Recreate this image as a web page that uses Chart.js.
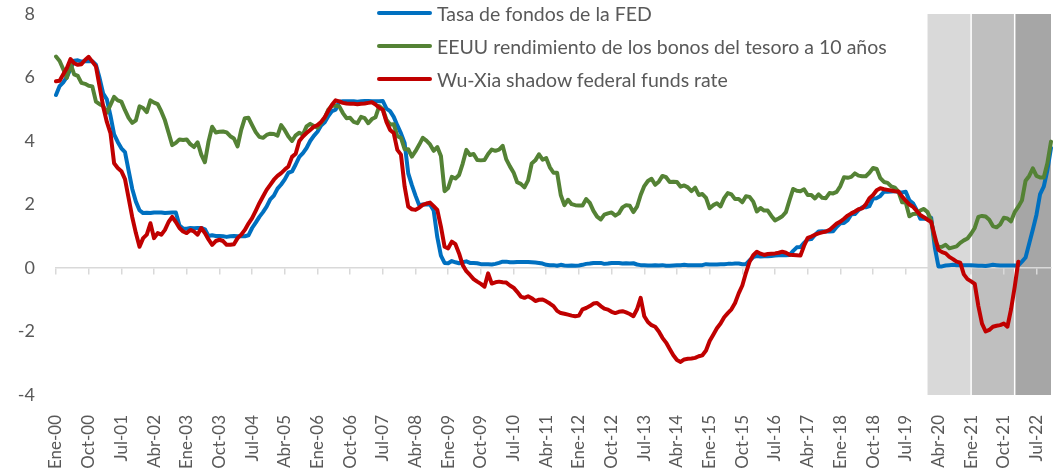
<!DOCTYPE html>
<html>
<head>
<meta charset="utf-8">
<script src="https://cdn.jsdelivr.net/npm/chart.js@4"></script>
<style>
  body { margin: 0; background: #fff; }
  #wrap { position: relative; width: 1056px; height: 472px; }
  #legend { position: absolute; left: 377px; top: 0; font-family: Lato, sans-serif; font-size: 19.5px; color: #595959; }
  #legend .row { position: absolute; left: 0; height: 24px; display: flex; align-items: center; white-space: nowrap; }
  #legend .swatch { width: 55px; height: 4px; border-radius: 2px; margin-right: 5px; }
</style>
</head>
<body>
<div id="wrap">
  <canvas id="chart" width="1056" height="472"></canvas>
  <div id="legend"></div>
</div>
<script>
const monthNames = ["Ene", "Feb", "Mar", "Abr", "May", "Jun", "Jul", "Ago", "Sep", "Oct", "Nov", "Dic"];
const firstYear = 2000;
const pointCount = 275; // Ene-00 .. Nov-22

const seriesNames = [
  "Tasa de fondos de la FED",
  "EEUU rendimiento de los bonos del tesoro a 10 años",
  "Wu-Xia shadow federal funds rate"
];
const seriesColors = ["#0070C0", "#548235", "#C00000"];

// one row per year, Ene..Dic
const fedFunds = [
  5.45, 5.73, 5.85, 6.02, 6.27, 6.53, 6.54, 6.50, 6.52, 6.51, 6.51, 6.40,
  5.98, 5.49, 5.31, 4.80, 4.21, 3.97, 3.77, 3.65, 3.07, 2.49, 2.09, 1.82,
  1.73, 1.74, 1.73, 1.75, 1.75, 1.75, 1.73, 1.74, 1.75, 1.75, 1.34, 1.24,
  1.24, 1.26, 1.25, 1.26, 1.26, 1.22, 1.01, 1.03, 1.01, 1.01, 1.00, 0.98,
  1.00, 1.01, 1.00, 1.00, 1.00, 1.03, 1.26, 1.43, 1.61, 1.76, 1.93, 2.16,
  2.28, 2.50, 2.63, 2.79, 3.00, 3.04, 3.26, 3.50, 3.62, 3.78, 4.00, 4.16,
  4.29, 4.49, 4.59, 4.79, 4.94, 4.99, 5.24, 5.25, 5.25, 5.25, 5.25, 5.24,
  5.25, 5.26, 5.26, 5.25, 5.25, 5.25, 5.26, 5.02, 4.94, 4.76, 4.49, 4.24,
  3.94, 2.98, 2.61, 2.28, 1.98, 2.00, 2.01, 2.00, 1.81, 0.97, 0.39, 0.16,
  0.15, 0.22, 0.18, 0.15, 0.18, 0.21, 0.16, 0.16, 0.15, 0.12, 0.12, 0.12,
  0.11, 0.13, 0.16, 0.20, 0.20, 0.18, 0.18, 0.19, 0.19, 0.19, 0.19, 0.18,
  0.17, 0.16, 0.14, 0.10, 0.09, 0.09, 0.07, 0.10, 0.08, 0.07, 0.08, 0.07,
  0.08, 0.10, 0.13, 0.14, 0.16, 0.16, 0.16, 0.13, 0.14, 0.16, 0.16, 0.16,
  0.14, 0.15, 0.14, 0.15, 0.11, 0.09, 0.09, 0.08, 0.08, 0.09, 0.08, 0.09,
  0.07, 0.07, 0.08, 0.09, 0.09, 0.10, 0.09, 0.09, 0.09, 0.09, 0.09, 0.12,
  0.11, 0.11, 0.11, 0.12, 0.12, 0.13, 0.13, 0.14, 0.14, 0.12, 0.12, 0.24,
  0.34, 0.38, 0.36, 0.37, 0.37, 0.38, 0.39, 0.40, 0.40, 0.40, 0.41, 0.54,
  0.65, 0.66, 0.79, 0.90, 0.91, 1.04, 1.15, 1.16, 1.15, 1.15, 1.16, 1.30,
  1.41, 1.42, 1.51, 1.69, 1.70, 1.82, 1.91, 1.91, 1.95, 2.19, 2.20, 2.27,
  2.40, 2.40, 2.41, 2.42, 2.39, 2.38, 2.40, 2.13, 2.04, 1.83, 1.55, 1.55,
  1.55, 1.58, 0.65, 0.05, 0.05, 0.08, 0.09, 0.10, 0.09, 0.09, 0.09, 0.09,
  0.09, 0.08, 0.07, 0.07, 0.06, 0.08, 0.10, 0.09, 0.08, 0.08, 0.08, 0.08,
  0.08, 0.08, 0.20, 0.33, 0.77, 1.21, 1.68, 2.33, 2.56, 3.08, 3.78
];

const tenYear = [
  6.66, 6.52, 6.26, 5.99, 6.44, 6.10, 6.05, 5.83, 5.80, 5.74, 5.72, 5.24,
  5.16, 5.10, 4.89, 5.14, 5.39, 5.28, 5.24, 4.97, 4.73, 4.57, 4.65, 5.09,
  5.04, 4.91, 5.28, 5.21, 5.16, 4.93, 4.65, 4.26, 3.87, 3.94, 4.05, 4.03,
  4.05, 3.90, 3.81, 3.96, 3.57, 3.33, 3.98, 4.45, 4.27, 4.29, 4.30, 4.27,
  4.15, 4.08, 3.83, 4.35, 4.72, 4.73, 4.50, 4.28, 4.13, 4.10, 4.19, 4.23,
  4.22, 4.17, 4.50, 4.34, 4.14, 4.00, 4.18, 4.26, 4.20, 4.46, 4.54, 4.47,
  4.42, 4.57, 4.72, 4.99, 5.11, 5.11, 5.09, 4.88, 4.72, 4.73, 4.60, 4.56,
  4.76, 4.72, 4.56, 4.69, 4.75, 5.10, 5.00, 4.67, 4.52, 4.53, 4.15, 4.10,
  3.74, 3.74, 3.51, 3.68, 3.88, 4.10, 4.01, 3.89, 3.69, 3.81, 3.53, 2.42,
  2.52, 2.87, 2.82, 2.93, 3.29, 3.72, 3.56, 3.59, 3.40, 3.39, 3.40, 3.59,
  3.73, 3.69, 3.73, 3.85, 3.42, 3.20, 3.01, 2.70, 2.65, 2.54, 2.76, 3.29,
  3.39, 3.58, 3.41, 3.46, 3.17, 3.00, 3.00, 2.30, 1.98, 2.15, 2.01, 1.98,
  1.97, 1.97, 2.17, 2.05, 1.80, 1.62, 1.53, 1.68, 1.72, 1.75, 1.65, 1.72,
  1.91, 1.98, 1.96, 1.76, 1.93, 2.30, 2.58, 2.74, 2.81, 2.62, 2.72, 2.90,
  2.86, 2.71, 2.72, 2.71, 2.56, 2.60, 2.54, 2.42, 2.53, 2.30, 2.33, 2.21,
  1.88, 1.98, 2.04, 1.94, 2.20, 2.36, 2.32, 2.17, 2.17, 2.07, 2.26, 2.24,
  2.09, 1.78, 1.89, 1.81, 1.81, 1.64, 1.50, 1.56, 1.63, 1.76, 2.14, 2.49,
  2.43, 2.42, 2.48, 2.30, 2.30, 2.19, 2.32, 2.21, 2.20, 2.36, 2.35, 2.40,
  2.58, 2.86, 2.84, 2.87, 2.98, 2.91, 2.89, 2.89, 3.00, 3.15, 3.12, 2.83,
  2.71, 2.68, 2.57, 2.53, 2.40, 2.07, 2.06, 1.63, 1.70, 1.71, 1.81, 1.86,
  1.76, 1.50, 0.87, 0.66, 0.67, 0.73, 0.62, 0.65, 0.68, 0.79, 0.87, 0.93,
  1.08, 1.26, 1.61, 1.64, 1.62, 1.52, 1.32, 1.28, 1.37, 1.58, 1.56, 1.47,
  1.76, 1.93, 2.13, 2.75, 2.90, 3.14, 2.90, 2.85, 2.85, 3.30, 3.98
];

const shadowRate = [
  5.88, 5.90, 6.10, 6.30, 6.58, 6.45, 6.40, 6.42, 6.55, 6.65, 6.50, 6.35,
  5.72, 5.08, 4.60, 4.25, 3.30, 3.15, 3.05, 2.80, 2.20, 1.60, 1.10, 0.67,
  0.94, 1.05, 1.41, 0.94, 1.10, 1.05, 1.20, 1.45, 1.61, 1.45, 1.26, 1.15,
  1.10, 1.20, 1.15, 1.05, 1.26, 1.10, 0.90, 0.73, 0.85, 0.89, 0.85, 0.73,
  0.73, 0.75, 0.94, 1.05, 1.20, 1.40, 1.57, 1.80, 2.04, 2.25, 2.46, 2.62,
  2.78, 2.90, 2.99, 3.10, 3.20, 3.50, 3.60, 4.00, 4.14, 4.25, 4.35, 4.45,
  4.50, 4.60, 4.75, 4.95, 5.14, 5.28, 5.25, 5.20, 5.18, 5.17, 5.17, 5.16,
  5.17, 5.18, 5.20, 5.22, 5.15, 5.05, 4.98, 4.60, 4.35, 4.25, 3.72, 3.57,
  2.57, 1.93, 1.85, 1.83, 1.90, 1.99, 2.03, 2.06, 1.95, 1.83, 1.30, 0.67,
  0.62, 0.83, 0.75, 0.46, 0.09, -0.10, -0.22, -0.35, -0.43, -0.50, -0.59, -0.17,
  -0.49, -0.45, -0.43, -0.45, -0.46, -0.55, -0.62, -0.75, -0.90, -0.94, -0.89, -0.95,
  -1.04, -1.00, -0.99, -1.05, -1.12, -1.20, -1.35, -1.42, -1.44, -1.47, -1.50, -1.52,
  -1.50, -1.30, -1.26, -1.20, -1.12, -1.10, -1.20, -1.28, -1.31, -1.38, -1.42, -1.38,
  -1.36, -1.40, -1.45, -1.52, -1.30, -0.94, -1.52, -1.70, -1.80, -1.85, -2.00, -2.20,
  -2.35, -2.55, -2.75, -2.90, -2.96, -2.88, -2.86, -2.85, -2.83, -2.78, -2.75, -2.60,
  -2.30, -2.10, -1.90, -1.75, -1.55, -1.42, -1.30, -1.10, -0.80, -0.55, -0.15, 0.20,
  0.40, 0.51, 0.45, 0.41, 0.44, 0.45, 0.46, 0.48, 0.51, 0.48, 0.42, 0.41,
  0.40, 0.39, 0.70, 0.95, 0.99, 1.05, 1.09, 1.12, 1.15, 1.20, 1.30, 1.40,
  1.46, 1.55, 1.65, 1.72, 1.78, 1.85, 1.88, 2.00, 2.20, 2.30, 2.45, 2.51,
  2.48, 2.46, 2.44, 2.42, 2.41, 2.25, 2.12, 2.00, 1.93, 1.80, 1.67, 1.60,
  1.52, 1.45, 1.00, 0.57, 0.50, 0.46, 0.35, 0.28, 0.20, 0.17, -0.20, -0.35,
  -0.42, -0.50, -1.20, -1.75, -2.00, -1.95, -1.85, -1.82, -1.80, -1.75, -1.85, -1.30,
  -0.60, 0.20, null, null, null, null, null, null, null, null, null
];

// shaded periods (2020, 2021, 2022)
const shadeFrom = ["Ene-20", "Ene-21", "Ene-22"];
const shadeTo = ["Ene-21", "Ene-22", "Nov-22"];
const shadeColors = ["#D9D9D9", "#BFBFBF", "#A6A6A6"];

const yTicks = [-4, -2, 0, 2, 4, 6, 8];
const labelEvery = 9;

const labels = [];
for (let i = 0; i < pointCount; i++) {
  const yr = firstYear + Math.floor(i / 12);
  labels.push(monthNames[i % 12] + "-" + String(yr % 100).padStart(2, "0"));
}

const shadeBands = {
  id: "shadeBands",
  beforeDraw(chart) {
    const { ctx, chartArea, scales } = chart;
    const x = scales.x;
    ctx.save();
    shadeFrom.forEach((from, i) => {
      const x0 = x.getPixelForValue(labels.indexOf(from));
      const x1 = x.getPixelForValue(labels.indexOf(shadeTo[i]));
      ctx.fillStyle = shadeColors[i];
      ctx.fillRect(x0, chartArea.top, x1 - x0, chartArea.bottom - chartArea.top);
      if (i > 0) {
        ctx.strokeStyle = "#fff";
        ctx.lineWidth = 1.5;
        ctx.beginPath();
        ctx.moveTo(x0, chartArea.top);
        ctx.lineTo(x0, chartArea.bottom);
        ctx.stroke();
      }
    });
    ctx.restore();
  }
};

const noPad = (s) => { s.paddingTop = 0; s.paddingBottom = 0; s.paddingLeft = 0; s.paddingRight = 0; };

new Chart(document.getElementById("chart"), {
  type: "line",
  data: {
    labels: labels,
    datasets: [
      { label: seriesNames[0], data: fedFunds, borderColor: seriesColors[0], order: 2 },
      { label: seriesNames[1], data: tenYear, borderColor: seriesColors[1], order: 1 },
      { label: seriesNames[2], data: shadowRate, borderColor: seriesColors[2], order: 0 }
    ]
  },
  options: {
    responsive: false,
    animation: false,
    devicePixelRatio: 1,
    elements: {
      point: { radius: 0 },
      line: { borderWidth: 4, tension: 0, borderJoinStyle: "round", borderCapStyle: "round", fill: false }
    },
    layout: { padding: { top: 14, right: 5, bottom: 0, left: 0 } },
    plugins: { legend: { display: false }, tooltip: { enabled: false } },
    scales: {
      x: {
        position: "bottom",
        grid: { display: false, drawTicks: false },
        border: { display: false },
        ticks: {
          autoSkip: false,
          maxRotation: 90,
          minRotation: 90,
          padding: 20,
          color: "#595959",
          font: { family: "Lato, sans-serif", size: 17 },
          callback: (v, i) => (i % labelEvery === 0 ? labels[i] : "")
        },
        afterFit: (s) => { s.height = 77; noPad(s); }
      },
      xAxisLine: {
        type: "category",
        position: { y: 0 },
        ticks: { display: false },
        border: { color: "#D9D9D9", width: 1.5 },
        grid: {
          drawOnChartArea: false,
          tickLength: 6,
          lineWidth: 1.5,
          color: (c) => (c.index % labelEvery === 0 ? "#D9D9D9" : "rgba(0,0,0,0)")
        },
        afterFit: noPad
      },
      y: {
        min: -4,
        max: 8,
        afterBuildTicks: (s) => { s.ticks = yTicks.map((v) => ({ value: v })); },
        grid: { display: false, drawTicks: false },
        border: { display: false },
        ticks: { padding: 21, color: "#595959", font: { family: "Lato, sans-serif", size: 18 } },
        afterFit: (s) => { s.width = 56; noPad(s); }
      }
    }
  },
  plugins: [shadeBands]
});

// legend, one row per series
const legend = document.getElementById("legend");
const rowTop = [1, 34, 67];
seriesNames.forEach((name, i) => {
  const row = document.createElement("div");
  row.className = "row";
  row.style.top = rowTop[i] + "px";
  const sw = document.createElement("span");
  sw.className = "swatch";
  sw.style.background = seriesColors[i];
  const txt = document.createElement("span");
  txt.textContent = name;
  row.appendChild(sw);
  row.appendChild(txt);
  legend.appendChild(row);
});
</script>
</body>
</html>
